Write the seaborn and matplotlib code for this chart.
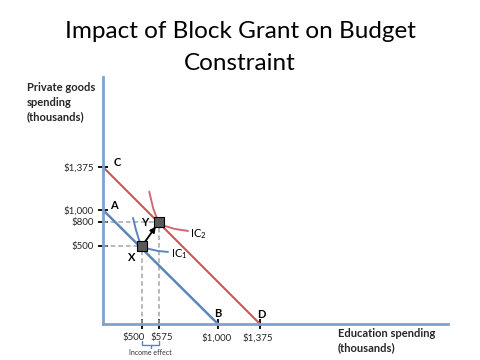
import numpy as np
import pandas as pd
import matplotlib
matplotlib.use("Agg")
import matplotlib.pyplot as plt
import seaborn as sns
from matplotlib.scale import FuncScale
from matplotlib.transforms import blended_transform_factory, ScaledTranslation

# ---------------- data ----------------
title_line1 = "Impact of Block Grant on Budget"
title_line2 = "Constraint"
x_label = "Education spending\n(thousands)"
y_label = "Private goods\nspending\n(thousands)"

x_ticks = [500, 575, 1000, 1375]
x_tick_labels = ["$500", "$575", "$1,000", "$1,375"]
y_ticks = [500, 800, 1000, 1375]
y_tick_labels = ["$500", "$800", "$1,000", "$1,375"]

# budget constraints (endpoints: A-B before grant, C-D after grant)
budget_before_x = [0, 1000]
budget_before_y = [1000, 0]
budget_after_x = [0, 1375]
budget_after_y = [1375, 0]

# indifference curves
ic1_x = [385, 423, 462, 500, 531, 571, 640]
ic1_y = [867, 700, 575, 500, 481, 468, 462]
ic2_x = [532, 549, 562, 575, 618, 690, 784]
ic2_y = [1160, 1017, 900, 800, 750, 713, 688]

# optimal bundles
point_x = [500, 575]
point_y = [500, 800]
point_names = ["X", "Y"]

# schematic (not-to-scale) axis anchors: value -> relative position
x_knots_val = [0, 500, 575, 1000, 1375, 3000]
x_knots_pos = [0, 39, 56, 115, 157, 345]
y_knots_val = [0, 500, 800, 1000, 1375, 2160]
y_knots_pos = [0, 78, 102, 114, 157, 247]

# ---------------- styling ----------------
sns.set_style("white")
plt.rcParams["font.family"] = ["Lato", "DejaVu Sans"]
plt.rcParams["mathtext.default"] = "regular"

AXIS_BLUE = "#7aa3d3"
BLUE = "#5b86bd"
RED = "#c9575a"
IC_RED = "#d06a72"
GRAY = "#a5a5a5"

fig = plt.figure(figsize=(4.8, 3.6), dpi=100)
ax = fig.add_axes([103 / 480, 36 / 360, 345 / 480, 247 / 360])


def mk(val, pos):
    val = np.asarray(val, float)
    pos = np.asarray(pos, float)

    def fwd(v):
        return np.interp(v, val, pos)

    def inv(p):
        return np.interp(p, pos, val)

    return fwd, inv


ax.set_xscale(FuncScale(ax.xaxis, mk(x_knots_val, x_knots_pos)))
ax.set_yscale(FuncScale(ax.yaxis, mk(y_knots_val, y_knots_pos)))
ax.set_xlim(0, 3000)
ax.set_ylim(0, 2160)

# dashed guides
for px, py in zip(point_x, point_y):
    ax.plot([0, px], [py, py], ls=(0, (3, 2)), color=GRAY, lw=1.1, zorder=1)
    ax.plot([px, px], [0, py], ls=(0, (3, 2)), color=GRAY, lw=1.1, zorder=1)

# budget lines
sns.lineplot(x=budget_before_x, y=budget_before_y, ax=ax, color=BLUE, lw=1.8,
             sort=False, estimator=None, zorder=2)
sns.lineplot(x=budget_after_x, y=budget_after_y, ax=ax, color=RED, lw=1.5,
             sort=False, estimator=None, zorder=2)

# indifference curves
sns.lineplot(x=ic1_x, y=ic1_y, ax=ax, color=BLUE, lw=1.4, sort=False,
             estimator=None, zorder=3)
sns.lineplot(x=ic2_x, y=ic2_y, ax=ax, color=IC_RED, lw=1.4, sort=False,
             estimator=None, zorder=3)

# arrow X -> Y
ax.annotate("", xy=(point_x[1], point_y[1]), xytext=(point_x[0], point_y[0]),
            arrowprops=dict(arrowstyle="-|>", color="black", lw=1.3,
                            mutation_scale=8, shrinkA=4, shrinkB=4),
            zorder=4)

# points
sns.scatterplot(x=point_x, y=point_y, ax=ax, marker="s", s=45,
                color="#5a5a5a", edgecolor="black", linewidth=0.8, zorder=5)

# spines / ticks
for s in ["top", "right"]:
    ax.spines[s].set_visible(False)
for s in ["left", "bottom"]:
    ax.spines[s].set_color(AXIS_BLUE)
    ax.spines[s].set_linewidth(2)
ax.set_xticks(x_ticks)
ax.set_xticklabels(x_tick_labels)
ax.set_yticks(y_ticks)
ax.set_yticklabels(y_tick_labels)
ax.tick_params(axis="both", direction="inout", length=7, width=1.3,
               color="black", labelsize=7, bottom=True, left=True)
ax.tick_params(axis="x", pad=3)
ax.tick_params(axis="y", pad=3)
ax.minorticks_off()
ax.set_xlabel("")
ax.set_ylabel("")
# nudge the crowded $500 / $575 labels apart
xl = ax.get_xticklabels()
xl[0].set_transform(xl[0].get_transform() + ScaledTranslation(-8 / 100, 0, fig.dpi_scale_trans))
xl[1].set_transform(xl[1].get_transform() + ScaledTranslation(3 / 100, 0, fig.dpi_scale_trans))
xl[2].set_transform(xl[2].get_transform() + ScaledTranslation(-1 / 100, 0, fig.dpi_scale_trans))
xl[3].set_transform(xl[3].get_transform() + ScaledTranslation(-2 / 100, 0, fig.dpi_scale_trans))

# point labels
lab_kw = dict(fontsize=8, fontweight="bold", color="black")
ax.annotate("A", (0, 1000), xytext=(7, 1), textcoords="offset pixels", **lab_kw)
ax.annotate("C", (0, 1375), xytext=(11, 1), textcoords="offset pixels", **lab_kw)
ax.annotate("B", (1000, 0), xytext=(-4, 7), textcoords="offset pixels", **lab_kw)
ax.annotate("D", (1375, 0), xytext=(-3, 6), textcoords="offset pixels", **lab_kw)
ax.annotate(point_names[0], (point_x[0], point_y[0]), xytext=(-14, -15),
            textcoords="offset pixels", **lab_kw)
ax.annotate(point_names[1], (point_x[1], point_y[1]), xytext=(-18, -4),
            textcoords="offset pixels", **lab_kw)
ax.annotate("IC$_1$", (ic1_x[-1], ic1_y[-1]), xytext=(3, -5),
            textcoords="offset pixels", fontsize=8, color="black")
ax.annotate("IC$_2$", (ic2_x[-1], ic2_y[-1]), xytext=(2, -6),
            textcoords="offset pixels", fontsize=8, color="black")

# income effect bracket
tr = blended_transform_factory(ax.transData, ax.transAxes)
yb = -21 / 247
yt = -17 / 247
ax.plot([point_x[0], point_x[0], point_x[1], point_x[1]], [yt, yb, yb, yt],
        transform=tr, color=BLUE, lw=1.0, clip_on=False)
mid = np.interp(np.mean(np.interp(point_x, x_knots_val, x_knots_pos)),
                x_knots_pos, x_knots_val)
ax.plot([mid, mid], [yb, yb - 3 / 247], transform=tr, color=BLUE, lw=1.0,
        clip_on=False)
ax.text(mid, yb - 4 / 247, "Income effect", transform=tr, fontsize=5,
        ha="center", va="top", color="#333333")

# titles and axis labels
fig.text(0.5, 1 - 31 / 360, title_line1, ha="center", va="center",
         fontsize=17.5, color="black")
fig.text(0.5, 1 - 63 / 360, title_line2, ha="center", va="center",
         fontsize=17.5, color="black")
fig.text(27 / 480, 1 - 82 / 360, y_label, ha="left", va="top", fontsize=8,
         fontweight="bold", linespacing=1.4)
fig.text(338 / 480, 1 - 328 / 360, x_label, ha="left", va="top", fontsize=8,
         fontweight="bold", linespacing=1.3)

fig.savefig("out.png", dpi=100, facecolor="white")
